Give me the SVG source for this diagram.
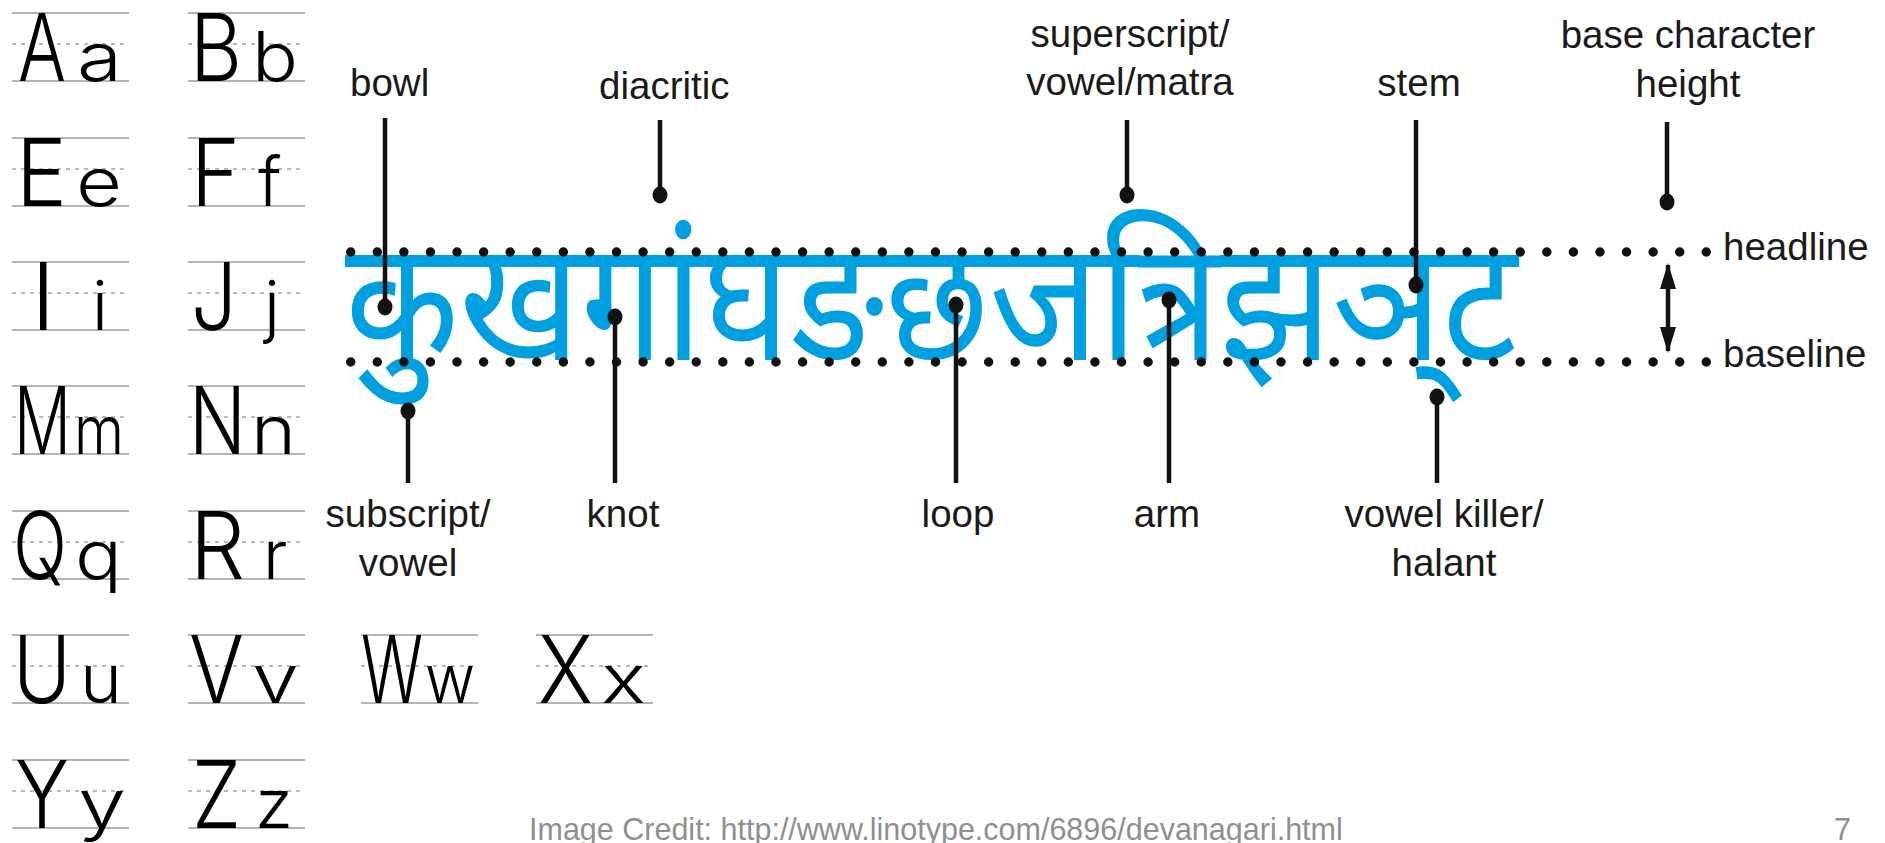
<svg xmlns="http://www.w3.org/2000/svg" width="1885" height="843" viewBox="0 0 1885 843">
<defs>
<style>
.guide{stroke:#9c9c9c;stroke-width:1.6;fill:none}
.mid{stroke:#a0a0a0;stroke-width:1.4;stroke-dasharray:4 5;fill:none}
.uc{font-family:Inter,"Liberation Sans",Arial,sans-serif;font-weight:300;font-size:93.5px;fill:#000}
.lc{font-family:Inter,"Liberation Sans",Arial,sans-serif;font-weight:300;font-size:68px;fill:#000}
.lbl{font-family:"Liberation Sans",Arial,sans-serif;font-size:38.5px;fill:#1a1a1a}
.mid-a{text-anchor:middle}
.lead{stroke:#111;stroke-width:4.5;fill:none}
.tip{fill:#111}
.dots{stroke:#111;stroke-width:9.5;stroke-linecap:round;stroke-dasharray:0 26.58;fill:none}
.deva{font-family:"Noto Sans Devanagari","Lohit Devanagari","Noto Sans",FreeSans,sans-serif;font-size:168px;fill:#00a0e0}
.credit{font-family:"Liberation Sans",Arial,sans-serif;font-size:30.5px;fill:#8f8f8f}
</style>
<marker id="ah" viewBox="0 0 26 16" refX="24" refY="8" markerWidth="26" markerHeight="16" markerUnits="userSpaceOnUse" orient="auto-start-reverse">
<path d="M0,0 L26,8 L0,16 Z" fill="#111"/>
</marker>
<g id="cellLines">
<line class="guide" x1="0" y1="0" x2="117" y2="0"/>
<line class="mid" x1="0" y1="31" x2="113" y2="31"/>
<line class="guide" x1="0" y1="68" x2="117" y2="68"/>
</g>
</defs>
<rect width="1885" height="843" fill="#fff"/>

<g id="alphabet">
<g id="cell-Aa"><use href="#cellLines" x="12" y="13"/><text class="uc" x="18" y="81" textLength="48" lengthAdjust="spacingAndGlyphs">A</text><text class="lc" x="77" y="81" textLength="45" lengthAdjust="spacingAndGlyphs">a</text></g>
<g id="cell-Bb"><use href="#cellLines" x="188" y="13"/><text class="uc" x="190" y="81" textLength="52" lengthAdjust="spacingAndGlyphs">B</text><text class="lc" x="252" y="81" textLength="46" lengthAdjust="spacingAndGlyphs">b</text></g>
<g id="cell-Ee"><use href="#cellLines" x="12" y="138"/><text class="uc" x="16" y="206" textLength="51" lengthAdjust="spacingAndGlyphs">E</text><text class="lc" x="76" y="206" textLength="46" lengthAdjust="spacingAndGlyphs">e</text></g>
<g id="cell-Ff"><use href="#cellLines" x="188" y="138"/><text class="uc" x="191" y="206" textLength="49" lengthAdjust="spacingAndGlyphs">F</text><text class="lc" x="258" y="206">f</text></g>
<g id="cell-Ii"><use href="#cellLines" x="12" y="262"/><text class="uc" x="31" y="330">I</text><text class="lc" x="92" y="330">i</text></g>
<g id="cell-Jj"><use href="#cellLines" x="188" y="262"/><text class="uc" x="191" y="330" textLength="46" lengthAdjust="spacingAndGlyphs">J</text><text class="lc" x="264" y="330">j</text></g>
<g id="cell-Mm"><use href="#cellLines" x="12" y="386"/><text class="uc" x="14" y="454" textLength="57" lengthAdjust="spacingAndGlyphs">M</text><text class="lc" x="74" y="454" textLength="50" lengthAdjust="spacingAndGlyphs">m</text></g>
<g id="cell-Nn"><use href="#cellLines" x="188" y="386"/><text class="uc" x="189" y="454" textLength="57" lengthAdjust="spacingAndGlyphs">N</text><text class="lc" x="251" y="454" textLength="45" lengthAdjust="spacingAndGlyphs">n</text></g>
<g id="cell-Qq"><use href="#cellLines" x="12" y="511"/><text class="uc" x="13" y="579" textLength="54" lengthAdjust="spacingAndGlyphs">Q</text><text class="lc" x="75" y="579" textLength="47" lengthAdjust="spacingAndGlyphs">q</text></g>
<g id="cell-Rr"><use href="#cellLines" x="188" y="511"/><text class="uc" x="190" y="579" textLength="55" lengthAdjust="spacingAndGlyphs">R</text><text class="lc" x="263" y="579">r</text></g>
<g id="cell-Uu"><use href="#cellLines" x="12" y="635"/><text class="uc" x="13" y="703" textLength="58" lengthAdjust="spacingAndGlyphs">U</text><text class="lc" x="80" y="703" textLength="42" lengthAdjust="spacingAndGlyphs">u</text></g>
<g id="cell-Vv"><use href="#cellLines" x="188" y="635"/><text class="uc" x="189" y="703" textLength="55" lengthAdjust="spacingAndGlyphs">V</text><text class="lc" x="252" y="703" textLength="47" lengthAdjust="spacingAndGlyphs">v</text></g>
<g id="cell-Ww"><use href="#cellLines" x="361" y="635"/><text class="uc" x="361" y="703" textLength="62" lengthAdjust="spacingAndGlyphs">W</text><text class="lc" x="425" y="703" textLength="50" lengthAdjust="spacingAndGlyphs">w</text></g>
<g id="cell-Xx"><use href="#cellLines" x="536" y="635"/><text class="uc" x="538" y="703" textLength="55" lengthAdjust="spacingAndGlyphs">X</text><text class="lc" x="601" y="703" textLength="45" lengthAdjust="spacingAndGlyphs">x</text></g>
<g id="cell-Yy"><use href="#cellLines" x="12" y="760"/><text class="uc" x="15" y="828" textLength="54" lengthAdjust="spacingAndGlyphs">Y</text><text class="lc" x="78" y="828" textLength="48" lengthAdjust="spacingAndGlyphs">y</text></g>
<g id="cell-Zz"><use href="#cellLines" x="188" y="760"/><text class="uc" x="192" y="828" textLength="49" lengthAdjust="spacingAndGlyphs">Z</text><text class="lc" x="255" y="828" textLength="38" lengthAdjust="spacingAndGlyphs">z</text></g>
</g>

<g id="specimen">
<text class="deva" x="345" y="360" textLength="1172" lengthAdjust="spacingAndGlyphs">कुखगांघङछजत्रिझञ्&#x200C;ट</text>
</g>

<g id="guides">
<line class="dots" x1="350.7" y1="252" x2="1707" y2="252"/>
<line class="dots" x1="350.7" y1="362" x2="1707" y2="362"/>
</g>

<g id="connectors">
<line class="lead" x1="385" y1="118" x2="385" y2="307"/><ellipse class="tip" cx="385" cy="307" rx="7.5" ry="8.5"/>
<line class="lead" x1="660" y1="120" x2="660" y2="195"/><ellipse class="tip" cx="660" cy="195" rx="7.5" ry="8.5"/>
<line class="lead" x1="1127" y1="120" x2="1127" y2="195"/><ellipse class="tip" cx="1127" cy="195" rx="7.5" ry="8.5"/>
<line class="lead" x1="1416" y1="120" x2="1416" y2="285"/><ellipse class="tip" cx="1416" cy="285" rx="7.5" ry="8.5"/>
<line class="lead" x1="1667" y1="122" x2="1667" y2="202"/><ellipse class="tip" cx="1667" cy="202" rx="7.5" ry="8.5"/>
<line class="lead" x1="408" y1="411" x2="408" y2="483"/><ellipse class="tip" cx="408" cy="411" rx="7.5" ry="8.5"/>
<line class="lead" x1="615" y1="317" x2="615" y2="483"/><ellipse class="tip" cx="615" cy="317" rx="7.5" ry="8.5"/>
<line class="lead" x1="956" y1="305" x2="956" y2="483"/><ellipse class="tip" cx="956" cy="305" rx="7.5" ry="8.5"/>
<line class="lead" x1="1169" y1="300" x2="1169" y2="483"/><ellipse class="tip" cx="1169" cy="300" rx="7.5" ry="8.5"/>
<line class="lead" x1="1437" y1="397" x2="1437" y2="483"/><ellipse class="tip" cx="1437" cy="397" rx="7.5" ry="8.5"/>
<line class="lead" x1="1668" y1="265" x2="1668" y2="351" marker-start="url(#ah)" marker-end="url(#ah)"/>
</g>

<g id="label-bowl"><text class="lbl" x="350" y="96">bowl</text></g>
<g id="label-diacritic"><text class="lbl" x="599" y="99">diacritic</text></g>
<g id="label-superscript"><text class="lbl mid-a" x="1130" y="47">superscript/</text><text class="lbl mid-a" x="1130" y="95">vowel/matra</text></g>
<g id="label-stem"><text class="lbl mid-a" x="1419" y="96">stem</text></g>
<g id="label-height"><text class="lbl mid-a" x="1688" y="48">base character</text><text class="lbl mid-a" x="1688" y="97">height</text></g>
<g id="label-subscript"><text class="lbl mid-a" x="408" y="527">subscript/</text><text class="lbl mid-a" x="408" y="576">vowel</text></g>
<g id="label-knot"><text class="lbl mid-a" x="623" y="527">knot</text></g>
<g id="label-loop"><text class="lbl mid-a" x="958" y="527">loop</text></g>
<g id="label-arm"><text class="lbl mid-a" x="1167" y="527">arm</text></g>
<g id="label-halant"><text class="lbl mid-a" x="1444" y="527">vowel killer/</text><text class="lbl mid-a" x="1444" y="576">halant</text></g>
<g id="label-headline"><text class="lbl" x="1723" y="260">headline</text></g>
<g id="label-baseline"><text class="lbl" x="1723" y="367">baseline</text></g>

<g id="footer">
<text class="credit" x="529" y="840">Image Credit: http://www.linotype.com/6896/devanagari.html</text>
<text class="credit" x="1834" y="840">7</text>
</g>
</svg>
